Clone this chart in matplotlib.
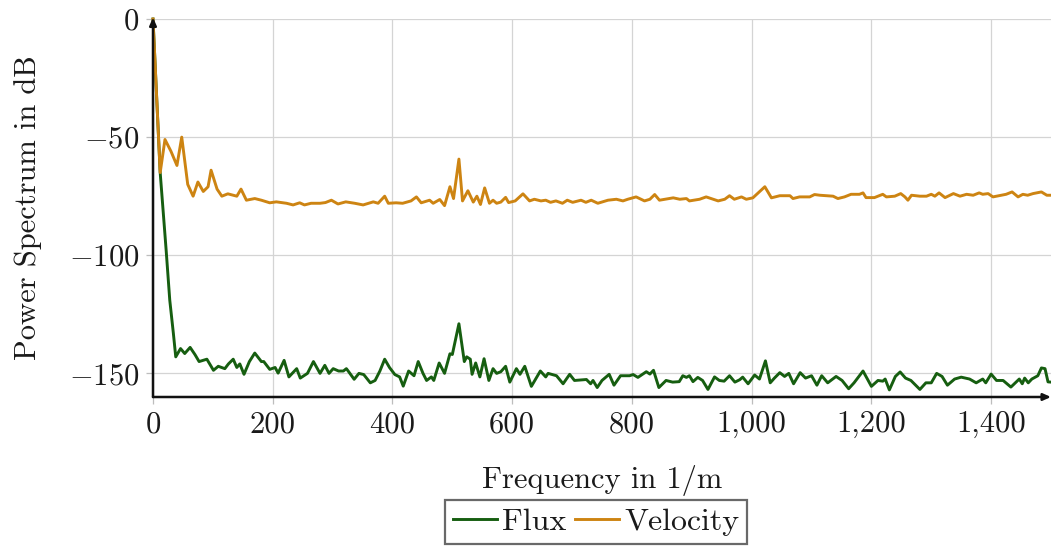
import matplotlib
matplotlib.use("Agg")
import matplotlib.pyplot as plt
from matplotlib.ticker import FuncFormatter

plt.rcParams['font.family'] = ['cmr10', 'DejaVu Serif']
plt.rcParams['mathtext.fontset'] = 'cm'
plt.rcParams['axes.formatter.use_mathtext'] = True

flux_freq = [0, 12, 22, 28, 34, 38, 46, 53, 62, 70, 77, 90, 101, 109, 120, 126, 134, 140, 145, 152,
             161, 170, 181, 185, 195, 204, 209, 219, 227, 240, 246, 258, 268, 279, 287, 294, 301, 310,
             318, 323, 326, 336, 344, 352, 363, 371, 379, 387, 395, 404, 412, 418, 427, 436, 443, 451,
             457, 465, 469, 478, 487, 496, 500, 511, 520, 524, 530, 533, 539, 546, 553, 561, 568, 574,
             581, 589, 596, 607, 613, 621, 632, 647, 656, 660, 674, 685, 696, 704, 724, 731, 735, 742,
             750, 762, 770, 781, 796, 802, 810, 824, 830, 836, 845, 857, 868, 879, 885, 891, 896, 902,
             910, 918, 927, 938, 946, 954, 963, 972, 980, 985, 994, 1005, 1013, 1023, 1031, 1038, 1047,
             1055, 1062, 1070, 1081, 1090, 1100, 1109, 1117, 1127, 1141, 1151, 1162, 1171, 1186, 1200,
             1211, 1219, 1223, 1230, 1240, 1248, 1257, 1266, 1281, 1291, 1300, 1309, 1318, 1327, 1339,
             1350, 1364, 1375, 1386, 1391, 1400, 1409, 1420, 1433, 1447, 1452, 1456, 1462, 1468, 1478,
             1484, 1490, 1495, 1500]
flux_db = [0, -65, -98, -119, -133, -143, -139.5, -141.6, -139, -142, -145, -144, -148.7, -147, -148,
           -146, -144, -147.5, -146, -150.4, -145, -141.4, -145, -145, -148.3, -147.5, -149.9, -144.5,
           -151.5, -148, -152, -150, -145, -150, -146.6, -150, -148, -149, -149, -148, -149, -152.5,
           -150, -150.5, -154, -153, -149, -144, -147.5, -150.5, -151.5, -155.4, -149, -151, -145, -150,
           -153, -151.5, -153, -145.6, -150, -141.7, -142, -129, -145, -143, -144, -150.4, -145.6,
           -151.5, -143.8, -153, -148, -150, -149.3, -147, -153.7, -148, -150.4, -147, -155.5, -149,
           -151.5, -150, -151, -154.4, -150.4, -153, -152.6, -154.4, -153, -156, -153, -150.4, -155,
           -151, -151, -150.5, -151.7, -149.3, -150.3, -148.7, -156, -153, -153.7, -153.5, -151, -151.7,
           -151, -153.5, -151.7, -153, -156.8, -151.5, -153, -153.3, -151, -153.7, -152.7, -151.6,
           -154.4, -150.7, -152.4, -144.7, -154, -152, -149.7, -151.3, -150, -154.4, -149.7, -152, -151,
           -155, -151, -154, -151.3, -153, -156.5, -154, -149, -155.5, -153, -153.3, -152.4, -157,
           -151.3, -149.4, -152, -153, -156.8, -154, -154, -150, -151.3, -155, -152.4, -151.6, -152.4,
           -154, -152.4, -154, -150.3, -153, -153, -155.8, -152.4, -154.4, -152, -154, -152.4, -151,
           -147.7, -148, -153.6, -153.7]

vel_freq = [0, 12, 20, 30, 40, 48, 58, 67, 75, 84, 92, 97, 107, 115, 125, 140, 147, 156, 170, 181, 195,
            206, 223, 234, 245, 253, 264, 279, 288, 298, 309, 322, 337, 351, 368, 376, 387, 393, 406,
            417, 431, 440, 448, 462, 468, 479, 487, 496, 502, 511, 517, 526, 535, 541, 547, 554, 562,
            568, 574, 581, 589, 594, 605, 618, 629, 637, 648, 656, 664, 673, 684, 692, 701, 715, 723,
            732, 743, 760, 774, 785, 793, 807, 821, 830, 838, 846, 869, 880, 891, 896, 913, 924, 944,
            955, 963, 971, 983, 991, 1002, 1022, 1033, 1047, 1064, 1069, 1080, 1097, 1105, 1114, 1136,
            1144, 1155, 1166, 1180, 1186, 1191, 1205, 1219, 1225, 1239, 1249, 1256, 1261, 1267, 1281,
            1292, 1300, 1306, 1313, 1323, 1337, 1348, 1359, 1370, 1380, 1386, 1395, 1403, 1417, 1425,
            1435, 1445, 1453, 1461, 1470, 1484, 1493, 1500]
vel_db = [0, -65, -51, -56, -62, -50, -70, -75, -69, -73, -71, -64, -72, -75, -74, -75, -72, -76.7, -76,
          -76.7, -77.8, -77.4, -78, -78.7, -77.8, -78.7, -78, -78, -77.7, -76.7, -78.3, -77.4, -78,
          -78.7, -77.4, -78, -75, -78, -77.8, -78, -77, -75.3, -77.8, -76.7, -78, -76.4, -79, -71, -76,
          -59.3, -77, -72.7, -77.5, -75, -78.5, -71.5, -78, -76.7, -78, -77.5, -75.5, -77.7, -77, -74,
          -77, -76.3, -77, -76.7, -77.6, -77, -78, -76.7, -77.6, -76.7, -77.6, -76.7, -78, -76.7, -76.3,
          -77, -76.3, -75.3, -77, -76.3, -74.3, -76.7, -75.7, -76.3, -76, -77, -76.3, -75.3, -77, -76.3,
          -74.8, -76.3, -75.3, -76.3, -75.7, -71, -75.7, -74.8, -74.8, -76, -75.3, -75.3, -74.3, -74.6,
          -75, -76, -75.3, -74.2, -74.2, -73.6, -75.6, -75.6, -74.2, -75.3, -75, -73.9, -75.3, -76.7,
          -74.6, -75, -75, -74.2, -75, -73.6, -75.6, -73.9, -75, -74.2, -74.6, -73.6, -74.2, -73.9,
          -75.3, -74.6, -74.2, -73.2, -75.3, -74.2, -74.6, -73.9, -73.2, -74.6, -74.6]

x_ticks = [0, 200, 400, 600, 800, 1000, 1200, 1400]
y_ticks = [-150, -100, -50, 0]

green = '#165e10'
orange = '#cd8412'

fig = plt.figure(figsize=(10.51, 5.47), dpi=100)
ax = fig.add_axes([153 / 1051, 1 - 397 / 547, (1051 - 153) / 1051, (397 - 19) / 547])

ax.plot(flux_freq, flux_db, color=green, lw=2.1, label='Flux', clip_on=False, zorder=3)
ax.plot(vel_freq, vel_db, color=orange, lw=2.1, label='Velocity', clip_on=False, zorder=3)

ax.set_xlim(0, 1500)
ax.set_ylim(-160, 0)
ax.set_xticks(x_ticks)
ax.set_yticks(y_ticks)
ax.xaxis.set_major_formatter(FuncFormatter(lambda v, p: f"{int(v):,}"))
ax.yaxis.set_major_formatter(FuncFormatter(lambda v, p: r"$%d$" % int(v)))
ax.grid(True, color='#d4d4d4', lw=0.9)
ax.set_axisbelow(True)
ax.tick_params(axis='both', colors='#bdbdbd', length=5, width=0.9, direction='out',
               labelsize=22, labelcolor='#1a1a1a', pad=5)
for s in ax.spines.values():
    s.set_visible(False)

ax.annotate('', xy=(0, 1.004), xytext=(0, 0), xycoords='axes fraction',
            arrowprops=dict(arrowstyle='-|>,head_length=0.45,head_width=0.2', lw=1.8,
                            color='#111111', shrinkA=0, shrinkB=0), zorder=5)
ax.annotate('', xy=(1.0, 0), xytext=(0, 0), xycoords='axes fraction',
            arrowprops=dict(arrowstyle='-|>,head_length=0.45,head_width=0.2', lw=1.8,
                            color='#111111', shrinkA=0, shrinkB=0), zorder=5)

ax.set_xlabel('Frequency in 1/m', fontsize=22, color='#1a1a1a', labelpad=19)
ax.set_ylabel('Power Spectrum in dB', fontsize=22, color='#1a1a1a', labelpad=19)

leg = fig.legend(loc='upper center', bbox_to_anchor=(596 / 1051, 1 - 500 / 547), ncol=2,
                 fontsize=23, frameon=True, fancybox=False, edgecolor='#444444',
                 handlelength=1.4, handletextpad=0.15, columnspacing=0.25, borderpad=0.25,
                 borderaxespad=0)
leg.get_frame().set_linewidth(1.6)
for t in leg.get_texts():
    t.set_color('#1a1a1a')

fig.savefig('out.png', dpi=100)
